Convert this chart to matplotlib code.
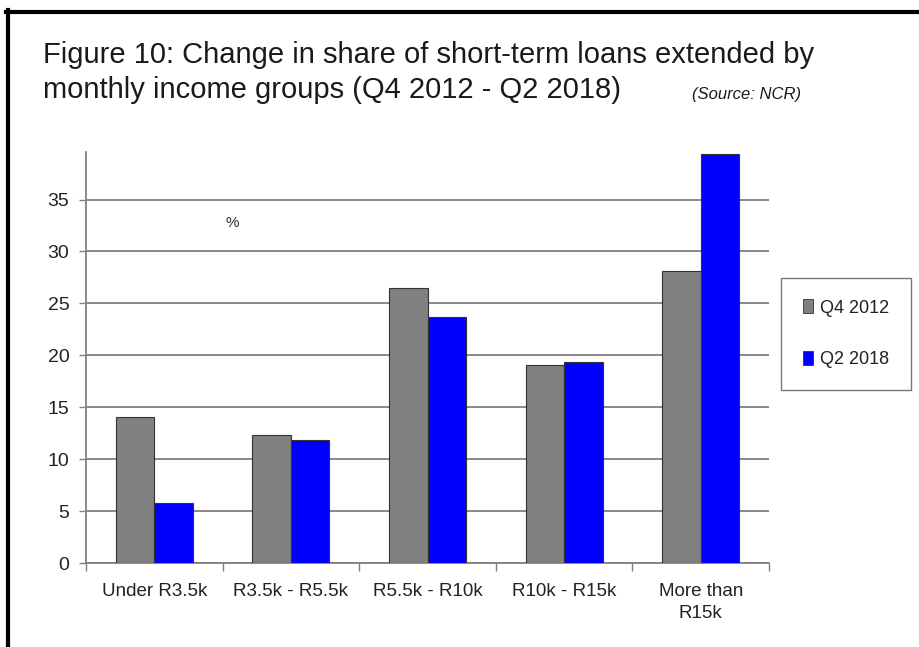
import matplotlib
matplotlib.use('Agg')
import matplotlib.pyplot as plt
from matplotlib.lines import Line2D
from matplotlib.patches import Patch
import numpy as np

plt.rcParams['font.family'] = ['Liberation Sans', 'DejaVu Sans']

categories = ['Under R3.5k', 'R3.5k - R5.5k', 'R5.5k - R10k', 'R10k - R15k', 'More than\nR15k']
q4_2012 = [14.1, 12.3, 26.5, 19.1, 28.1]
q2_2018 = [5.8, 11.9, 23.65, 19.4, 39.35]
series_names = ['Q4 2012', 'Q2 2018']
yticks = [0, 5, 10, 15, 20, 25, 30, 35]

W, H = 920, 647
fig = plt.figure(figsize=(9.2, 6.47), dpi=100)
ax = fig.add_axes([86 / W, 1 - 563.3 / H, (769 - 86) / W, (563.3 - 151.7) / H])

x = np.arange(len(categories))
bw = 0.282
ax.bar(x - bw / 2, q4_2012, bw, color='#808080', edgecolor='#333333', linewidth=0.8, zorder=3)
ax.bar(x + bw / 2, q2_2018, bw, color='#0000ff', edgecolor='#333333', linewidth=0.8, zorder=3)

ax.set_xlim(-0.5, len(categories) - 0.5)
ax.set_ylim(0, 39.6)
ax.set_yticks(yticks)
ax.tick_params(axis='y', length=5, width=1, color='#808080', labelsize=14, pad=7,
               labelcolor='#222222')
ax.yaxis.grid(True, color='#808080', linewidth=1.3, zorder=0)

# category labels centred, tick marks at the boundaries
ax.set_xticks(x)
ax.set_xticklabels(categories, fontsize=13.5, linespacing=1.4, color='#222222')
ax.tick_params(axis='x', length=0, pad=14)
ax.set_xticks(np.arange(len(categories) + 1) - 0.5, minor=True)
ax.tick_params(axis='x', which='minor', length=6, width=1, color='#808080')

for s in ['top', 'right']:
    ax.spines[s].set_visible(False)
for s in ['left', 'bottom']:
    ax.spines[s].set_color('#808080')
    ax.spines[s].set_linewidth(1.3)

ax.text(0.57, 32.7, '%', fontsize=11, color='#333333', ha='center', va='center')

handles = [Patch(facecolor='#808080', edgecolor='#333333', linewidth=0.6),
           Patch(facecolor='#0000ff', edgecolor='#333333', linewidth=0.6)]
leg = fig.legend(handles, series_names, loc='upper left',
                 bbox_to_anchor=(781 / W, 1 - 277.7 / H), fontsize=13,
                 frameon=True, fancybox=False, handlelength=0.55, handleheight=0.8,
                 handletextpad=0.4, labelspacing=1.9, borderpad=1.2, borderaxespad=0)
leg.get_frame().set_edgecolor('#555555')
leg.get_frame().set_linewidth(1.0)
for t in leg.get_texts():
    t.set_color('#222222')

fig.text(43 / W, 1 - 55 / H, 'Figure 10: Change in share of short-term loans extended by',
         fontsize=21, color='#1a1a1a', va='center')
fig.text(43 / W, 1 - 90 / H, 'monthly income groups (Q4 2012 - Q2 2018)',
         fontsize=21, color='#1a1a1a', va='center')
fig.text(692 / W, 1 - 95 / H, '(Source: NCR)', fontsize=12, style='italic',
         color='#1a1a1a', va='center')

# black frame along the top and left edges
fig.add_artist(Line2D([6 / W, 1], [1 - 12 / H, 1 - 12 / H], color='black', linewidth=3))
fig.add_artist(Line2D([8 / W, 8 / W], [1 - 10 / H, 0], color='black', linewidth=3))

fig.savefig('out.png', dpi=100)
